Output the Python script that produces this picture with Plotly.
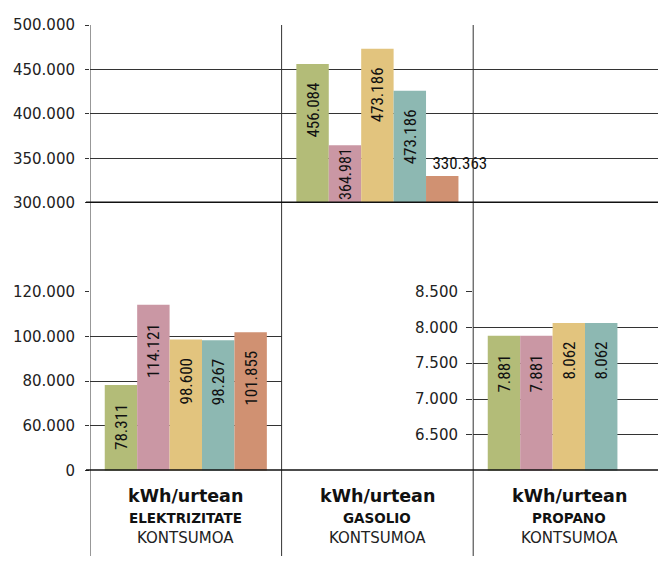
import plotly.graph_objects as go

# ---------------- data ----------------
categories = ["ELEKTRIZITATE", "GASOLIO", "PROPANO"]
colors = ["#B3BC78", "#CA97A4", "#E2C47E", "#8DB8B2", "#D09172"]

elektrizitatea = [78311, 114121, 98600, 98267, 101855]
elektrizitatea_lbl = ["78.311", "114.121", "98.600", "98.267", "101.855"]

gasolioa = [456084, 364981, 473186, 426000, 330363]
gasolioa_lbl = ["456.084", "364.981", "473.186", "473.186", "330.363"]

propanoa = [7881, 7881, 8062, 8062, None]
propanoa_lbl = ["7.881", "7.881", "8.062", "8.062", ""]

elek_tickvals = [40000, 60000, 80000, 100000, 120000]
elek_ticktext = ["0", "60.000", "80.000", "100.000", "120.000"]
gas_tickvals = [300000, 350000, 400000, 450000, 500000]
gas_ticktext = ["300.000", "350.000", "400.000", "450.000", "500.000"]
prop_tickvals = [6500, 7000, 7500, 8000, 8500]
prop_ticktext = ["6.500", "7.000", "7.500", "8.000", "8.500"]

unit_label = "kWh/urtean"
sub_label = "KONTSUMOA"

# ---------------- figure ----------------
W, H = 658, 565
ML, MT = 90, 25
PW, PH = W - ML, H - MT
CAT_PX = 191.6

def py(px):
    return (H - px) / PH

LBL_FONT = "Roboto Condensed, DejaVu Sans Condensed, sans-serif"
TICK_FONT = dict(family="DejaVu Sans", size=15, color="#222")
NBSP = "\u00a0"

fig = go.Figure()

# (category, values, labels, xaxis, yaxis, axis range, trailing pad, leading pad)
panels = [
    (categories[0], elektrizitatea, elektrizitatea_lbl, "x", "y", [40000, 120000],
     [4, 4, 4, 4, 4], [0, 0, 0, 0, 0]),
    (categories[1], gasolioa, gasolioa_lbl, "x2", "y2", [300000, 500000],
     [4, 0, 4, 4, 0], [0, 0, 0, 0, 9]),
    (categories[2], propanoa, propanoa_lbl, "x3", "y3", [6000, 8500],
     [4, 4, 4, 4, 0], [0, 0, 0, 0, 0]),
]

for cat, vals, lbls, xa, ya, rng, pads, leads in panels:
    base = rng[0]
    for i in range(5):
        outside = (cat == "GASOLIO" and i == 4)
        v = vals[i]
        fig.add_trace(go.Bar(
            x=[cat], y=[None if v is None else v - base], base=[base],
            text=[NBSP * leads[i] + lbls[i] + NBSP * pads[i]],
            xaxis=xa, yaxis=ya,
            marker=dict(color=colors[i], line=dict(width=0)),
            textposition="outside" if outside else "inside",
            insidetextanchor="end",
            textangle=0 if outside else -90,
            constraintext="none" if outside else "both",
            cliponaxis=False,
            textfont=dict(family=LBL_FONT, size=17, color="#111"),
            showlegend=False,
            hoverinfo="skip",
        ))

left_w = CAT_PX / PW
right_x0 = (473 - ML) / PW
right_hi = (W - 473) / CAT_PX - 0.5
full_hi = PW / CAT_PX - 0.5

xcommon = dict(type="category", showticklabels=False, showgrid=False,
               zeroline=False, showline=False, ticks="", fixedrange=True)
ycommon = dict(showline=False, zeroline=False, ticks="outside",
               tickcolor="#333", gridcolor="#333", gridwidth=1,
               tickfont=TICK_FONT, fixedrange=True)

bottom_dom = [py(478.3), py(296)]
top_dom = [py(206), 1.0]

fig.update_layout(
    width=W, height=H,
    margin=dict(l=ML, r=0, t=MT, b=0),
    paper_bgcolor="white", plot_bgcolor="rgba(0,0,0,0)",
    barmode="group", bargap=0.154, bargroupgap=0,
    xaxis=dict(**xcommon, domain=[0, left_w], anchor="y",
               categoryorder="array", categoryarray=[categories[0]],
               range=[-0.5, 0.5]),
    xaxis2=dict(**xcommon, domain=[0, 1], anchor="y2",
                categoryorder="array", categoryarray=categories,
                range=[-0.5, full_hi]),
    xaxis3=dict(**xcommon, domain=[right_x0, 1], anchor="y3",
                categoryorder="array", categoryarray=[categories[2]],
                range=[-0.5, right_hi]),
    yaxis=dict(**ycommon, domain=bottom_dom, anchor="x", range=panels[0][5],
               tickvals=elek_tickvals, ticktext=elek_ticktext, ticklen=4,
               ticklabelstandoff=7),
    yaxis2=dict(**ycommon, domain=top_dom, anchor="x2", range=panels[1][5],
                tickvals=gas_tickvals, ticktext=gas_ticktext, ticklen=4,
                ticklabelstandoff=7),
    yaxis3=dict(**ycommon, domain=bottom_dom, anchor="x3", range=panels[2][5],
                tickvals=prop_tickvals, ticktext=prop_ticktext, ticklen=6,
                ticklabelstandoff=5),
)

shapes = []
# panel dividers (vertical)
for xv in [-0.5, 0.5, 1.5]:
    shapes.append(dict(type="line", xref="x2", yref="paper", x0=xv, x1=xv,
                       y0=0, y1=1, line=dict(color="#333", width=1), layer="above"))
# thick base lines
shapes.append(dict(type="line", xref="paper", yref="y2", x0=-4 / PW, x1=1,
                   y0=300000, y1=300000, line=dict(color="#111", width=3), layer="above"))
shapes.append(dict(type="line", xref="paper", yref="y", x0=-4 / PW, x1=1,
                   y0=40000, y1=40000, line=dict(color="#111", width=3), layer="above"))
fig.update_layout(shapes=shapes)

ann = []
for cat in categories:
    ann.append(dict(xref="x2", yref="paper", x=cat, y=py(503.5), yanchor="middle",
                    text=f"<b>{unit_label}</b>", showarrow=False,
                    font=dict(family="DejaVu Sans", size=17.5, color="#111")))
    ann.append(dict(xref="x2", yref="paper", x=cat, y=py(526.5), yanchor="middle",
                    text=f"<b>{cat}</b>", showarrow=False,
                    font=dict(family="DejaVu Sans", size=13.5, color="#111")))
    ann.append(dict(xref="x2", yref="paper", x=cat, y=py(546.5), yanchor="middle",
                    text=sub_label, showarrow=False,
                    font=dict(family="DejaVu Sans", size=15, color="#222")))
fig.update_layout(annotations=ann)

fig.write_html("out.html", config={"displayModeBar": False},
               post_script="document.body.style.margin='0';")
